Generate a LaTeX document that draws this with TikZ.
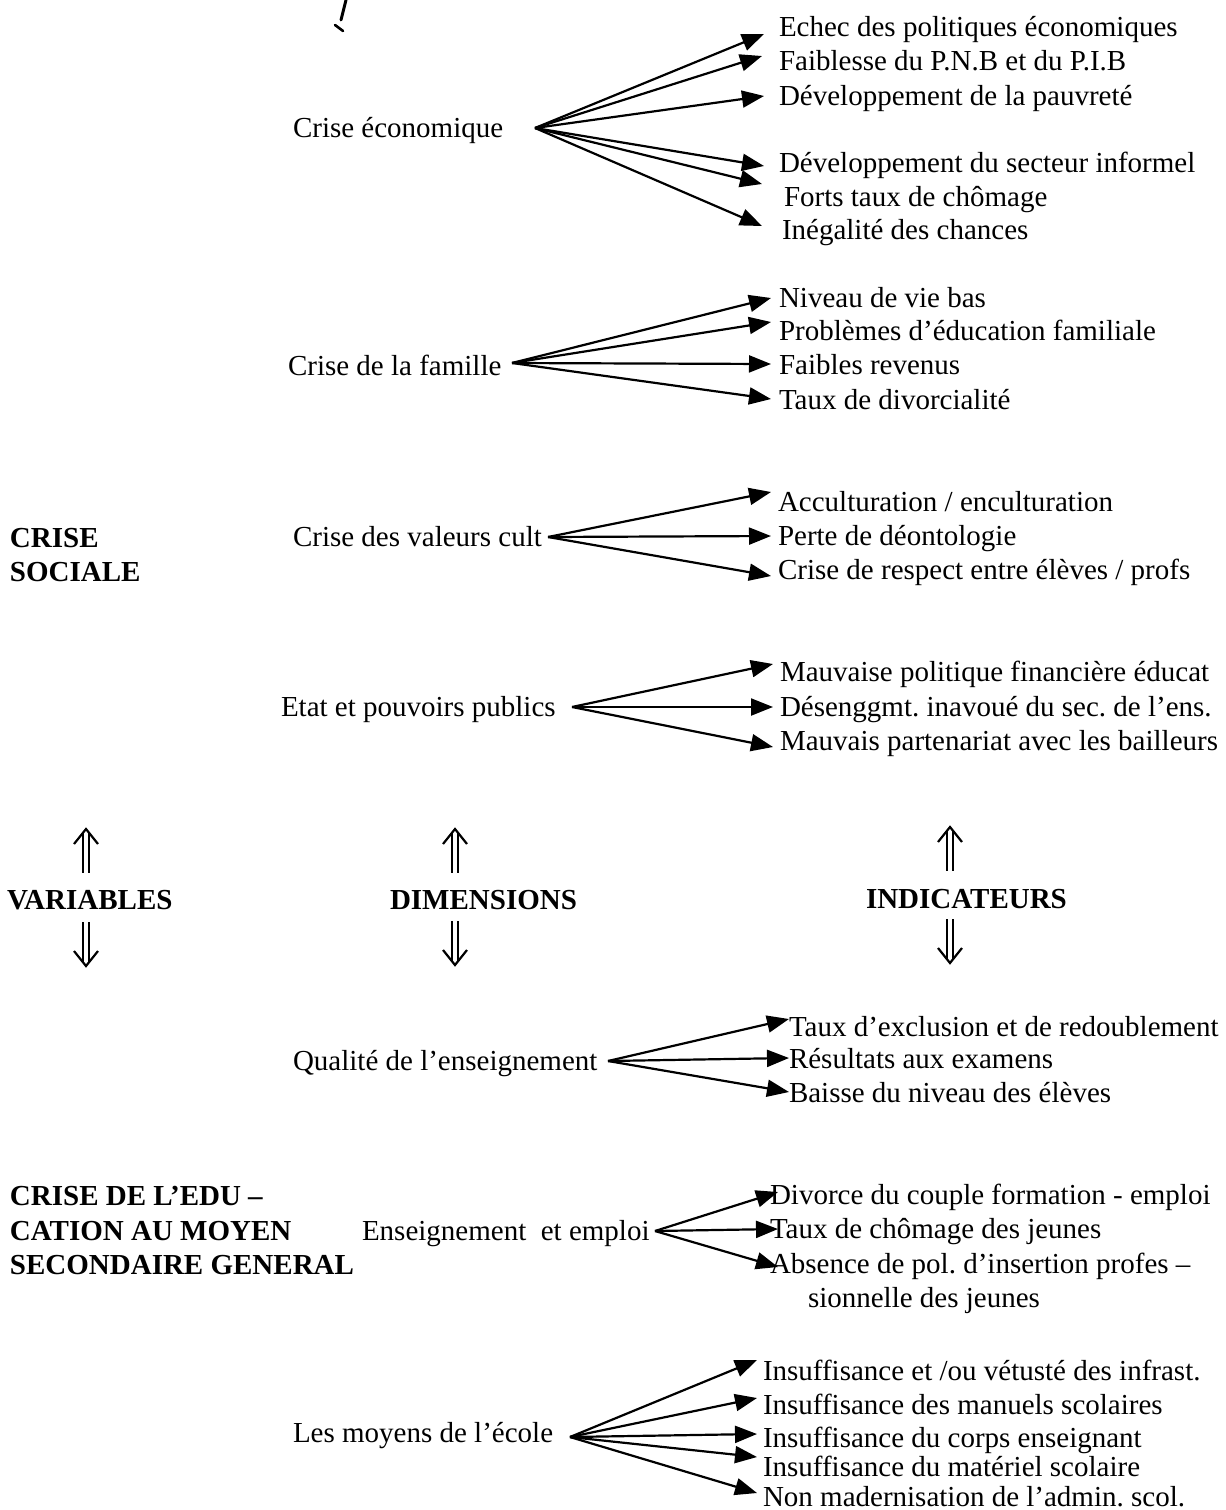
\documentclass[tikz,border=0pt]{standalone}
\usepackage{fontspec}
\setmainfont{Liberation Serif}
\usetikzlibrary{arrows.meta}
\frenchspacing
\tikzset{
  lbl/.style={anchor=west, inner sep=0pt, outer sep=0pt, text height=0.7em, text depth=0.2em,
    yshift=-2.2pt, font=\fontsize{14.5pt}{17pt}\selectfont\frenchspacing},
  bold/.style={lbl, font=\fontsize{14.5pt}{17pt}\selectfont\bfseries},
  fan/.style={line width=1.1pt, -{Triangle[length=11pt,width=8.5pt]}},
  dblup/.pic={
    \draw[line width=0.8pt] (-3,4) -- (-3,44) (3,4) -- (3,44);
    \draw[line width=1.1pt, line join=miter] (-12,15) -- (0,0) -- (12,15);
  },
  dbldown/.pic={
    \draw[line width=0.8pt] (-3,-4) -- (-3,-44) (3,-4) -- (3,-44);
    \draw[line width=1.1pt, line join=miter] (-12,-15) -- (0,0) -- (12,-15);
  }
}
\begin{document}
\begin{tikzpicture}[x=0.5pt,y=-0.5pt]
\path[use as bounding box, fill=white] (0,0) rectangle (1226,1510);
% stray mark
\draw[line width=1.5pt, line cap=round] (346,0) -- (341,20);
\draw[line width=1.3pt, line cap=round] (335,25) -- (343,31);

% left variables
\node[bold] (cs1) at (10,538) {CRISE};
\node[bold] (cs2) at (10,572) {SOCIALE};
\node[bold] (ce1) at (10,1196) {CRISE DE L’EDU –};
\node[bold] (ce2) at (10,1231) {CATION AU MOYEN};
\node[bold] (ce3) at (10,1265) {SECONDAIRE GENERAL};

% headers
\node[bold] (hv) at (7,900) {VARIABLES};
\node[bold] (hd) at (390,900) {DIMENSIONS};
\node[bold] (hi) at (866,899) {INDICATEURS};
\coordinate (hvu) at (86,829); \coordinate (hvd) at (86,966);
\coordinate (hdu) at (455,829); \coordinate (hdd) at (455,965);
\coordinate (hiu) at (950,827); \coordinate (hid) at (950,963);
\pic at (hvu) {dblup}; \pic at (hvd) {dbldown};
\pic at (hdu) {dblup}; \pic at (hdd) {dbldown};
\pic at (hiu) {dblup}; \pic at (hid) {dbldown};

% group 1
\node[lbl] (d1) at (293,128) {Crise économique};
\coordinate (s1) at (535,128);
\node[lbl] (i11) at (779,27) {Echec des politiques économiques};
\node[lbl] (i12) at (779,61) {Faiblesse du P.N.B et du P.I.B};
\node[lbl] (i13) at (779,96) {Développement de la pauvreté};
\node[lbl] (i14) at (779,163) {Développement du secteur informel};
\node[lbl] (i15) at (784,197) {Forts taux de chômage};
\node[lbl] (i16) at (782,230) {Inégalité des chances};
\coordinate (t11) at (764,34); \coordinate (t12) at (762,56);
\coordinate (t13) at (764,96); \coordinate (t14) at (764,166);
\coordinate (t15) at (762,184); \coordinate (t16) at (762,226);
\foreach \t in {t11,t12,t13,t14,t15,t16} \draw[fan] (s1) -- (\t);

% group 2
\node[lbl] (d2) at (288,366) {Crise de la famille};
\coordinate (s2) at (512,363);
\node[lbl] (i21) at (779,298) {Niveau de vie bas};
\node[lbl] (i22) at (779,331) {Problèmes d’éducation familiale};
\node[lbl] (i23) at (779,365) {Faibles revenus};
\node[lbl] (i24) at (779,400) {Taux de divorcialité};
\coordinate (t21) at (771,298); \coordinate (t22) at (771,322);
\coordinate (t23) at (771,364); \coordinate (t24) at (771,399);
\foreach \t in {t21,t22,t23,t24} \draw[fan] (s2) -- (\t);

% group 3
\node[lbl] (d3) at (293,537) {Crise des valeurs cult};
\coordinate (s3) at (548,537);
\node[lbl] (i31) at (778,502) {Acculturation / enculturation};
\node[lbl] (i32) at (778,536) {Perte de déontologie};
\node[lbl] (i33) at (778,570) {Crise de respect entre élèves / profs};
\coordinate (t31) at (771,492); \coordinate (t32) at (771,536);
\coordinate (t33) at (771,576);
\foreach \t in {t31,t32,t33} \draw[fan] (s3) -- (\t);

% group 4
\node[lbl] (d4) at (281,707) {Etat et pouvoirs publics};
\coordinate (s4) at (572,707);
\node[lbl] (i41) at (780,672) {Mauvaise politique financière éducat};
\node[lbl] (i42) at (780,707) {Désenggmt. inavoué du sec. de l’ens.};
\node[lbl] (i43) at (780,741) {Mauvais partenariat avec les bailleurs};
\coordinate (t41) at (773,664); \coordinate (t42) at (773,707);
\coordinate (t43) at (773,747);
\foreach \t in {t41,t42,t43} \draw[fan] (s4) -- (\t);

% group 5
\node[lbl] (d5) at (293,1061) {Qualité de l’enseignement};
\coordinate (s5) at (608,1061);
\node[lbl] (i51) at (789,1027) {Taux d’exclusion et de redoublement};
\node[lbl] (i52) at (789,1059) {Résultats aux examens};
\node[lbl] (i53) at (789,1093) {Baisse du niveau des élèves};
\coordinate (t51) at (789,1019); \coordinate (t52) at (789,1058);
\coordinate (t53) at (789,1092);
\foreach \t in {t51,t52,t53} \draw[fan] (s5) -- (\t);

% group 6
\node[lbl] (d6) at (362,1231) {Enseignement\hspace{0.5em}et emploi};
\coordinate (s6) at (655,1231);
\node[lbl] (i61) at (770,1195) {Divorce du couple formation - emploi};
\node[lbl] (i62) at (770,1229) {Taux de chômage des jeunes};
\node[lbl] (i63) at (770,1264) {Absence de pol. d’insertion profes –};
\node[lbl] (i64) at (808,1298) {sionnelle des jeunes};
\coordinate (t61) at (778,1192); \coordinate (t62) at (778,1229);
\coordinate (t63) at (778,1267);
\foreach \t in {t61,t62,t63} \draw[fan] (s6) -- (\t);

% group 7
\node[lbl] (d7) at (293,1433) {Les moyens de l’école};
\coordinate (s7) at (570,1437);
\node[lbl] (i71) at (763,1371) {Insuffisance et /ou vétusté des infrast.};
\node[lbl] (i72) at (763,1405) {Insuffisance des manuels scolaires};
\node[lbl] (i73) at (763,1438) {Insuffisance du corps enseignant};
\node[lbl] (i74) at (763,1467) {Insuffisance du matériel scolaire};
\node[lbl] (i75) at (763,1497) {Non madernisation de l’admin. scol.};
\coordinate (t71) at (757,1360); \coordinate (t72) at (757,1398);
\coordinate (t73) at (757,1434); \coordinate (t74) at (757,1457);
\coordinate (t75) at (757,1493);
\foreach \t in {t71,t72,t73,t74,t75} \draw[fan] (s7) -- (\t);
\end{tikzpicture}
\end{document}
